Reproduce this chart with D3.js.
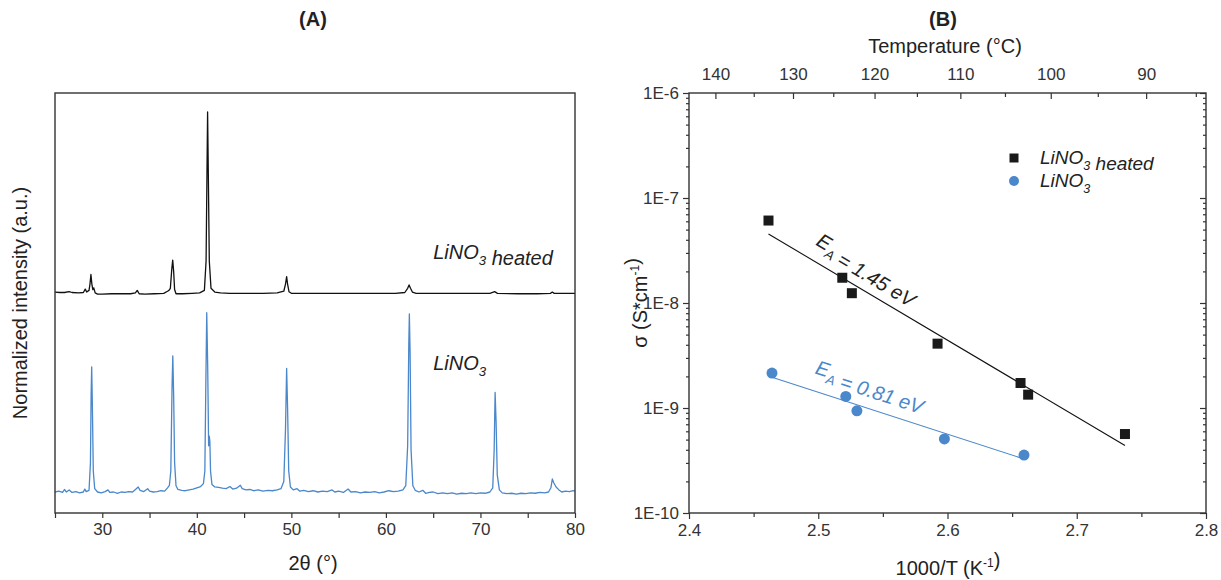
<!DOCTYPE html>
<html>
<head>
<meta charset="utf-8">
<script src="https://cdn.jsdelivr.net/npm/d3@7"></script>
<style>
  html, body { margin: 0; padding: 0; background: #fff; }
  svg { display: block; font-family: "Liberation Sans", Arial, sans-serif; }
  .axis path, .axis line { stroke: #333; stroke-width: 1.2; }
  .axis text { fill: #333; font-size: 17px; font-family: "Liberation Sans", Arial, sans-serif; }
</style>
</head>
<body>
<div id="chart"></div>
<script>
// ---- (A) XRD patterns : [2theta, normalized intensity]
const xrdHeated = [
  [25.0,0.526],[25.5,0.525],[26.0,0.525],[26.5,0.527],[26.8,0.525],[27.5,0.524],[28.0,0.525],
  [28.2,0.533],[28.35,0.526],[28.6,0.530],[28.7,0.545],[28.8,0.568],[28.9,0.545],[29.0,0.532],
  [29.1,0.536],[29.25,0.524],[29.5,0.521],[30.0,0.521],[31.0,0.522],[32.0,0.522],[33.0,0.522],
  [33.5,0.524],[33.7,0.530],[33.9,0.522],[34.5,0.521],[35.5,0.522],[36.5,0.523],[36.9,0.528],
  [37.05,0.530],[37.2,0.535],[37.35,0.580],[37.45,0.602],[37.55,0.575],[37.65,0.532],[37.8,0.522],
  [38.5,0.522],[39.5,0.523],[40.3,0.524],[40.8,0.530],[40.98,0.600],[41.07,0.800],[41.14,0.955],
  [41.22,0.800],[41.32,0.600],[41.5,0.535],[41.9,0.526],[42.5,0.524],[43.5,0.523],[45.0,0.523],
  [47.0,0.523],[48.5,0.524],[49.2,0.528],[49.38,0.545],[49.5,0.563],[49.6,0.545],[49.75,0.527],
  [50.0,0.523],[51.0,0.523],[53.0,0.523],[55.0,0.523],[57.0,0.523],[59.0,0.523],[61.0,0.523],
  [62.0,0.525],[62.3,0.535],[62.45,0.543],[62.6,0.535],[62.8,0.526],[63.2,0.523],[65.0,0.523],
  [67.0,0.523],[69.0,0.523],[71.0,0.523],[71.5,0.527],[71.8,0.523],[74.0,0.522],[76.0,0.522],
  [77.4,0.523],[77.6,0.526],[77.8,0.523],[80.0,0.523]
];

const xrdPristine = [
  [25.0,0.050],[25.4,0.052],[25.8,0.049],[26.0,0.056],[26.2,0.050],[26.5,0.055],[26.8,0.049],
  [27.2,0.051],[27.6,0.048],[28.0,0.050],[28.15,0.057],[28.3,0.051],[28.6,0.054],[28.75,0.120],
  [28.82,0.280],[28.88,0.348],[28.95,0.260],[29.05,0.100],[29.2,0.058],[29.5,0.050],[29.9,0.048],
  [30.3,0.051],[30.6,0.055],[30.8,0.049],[31.2,0.050],[31.6,0.047],[32.0,0.050],[32.4,0.049],
  [32.8,0.051],[33.2,0.050],[33.6,0.058],[33.8,0.062],[34.0,0.054],[34.4,0.051],[34.8,0.058],
  [35.0,0.052],[35.4,0.050],[35.8,0.051],[36.2,0.053],[36.6,0.052],[36.9,0.060],[37.1,0.066],
  [37.25,0.100],[37.38,0.300],[37.46,0.374],[37.55,0.280],[37.65,0.120],[37.8,0.065],[38.0,0.056],
  [38.4,0.054],[38.8,0.053],[39.2,0.055],[39.6,0.057],[40.0,0.060],[40.4,0.063],[40.7,0.070],
  [40.85,0.100],[40.95,0.300],[41.05,0.477],[41.15,0.350],[41.25,0.160],[41.32,0.183],[41.38,0.170],
  [41.45,0.100],[41.6,0.068],[41.9,0.062],[42.3,0.061],[42.7,0.059],[43.1,0.058],[43.5,0.063],
  [43.8,0.057],[44.2,0.059],[44.6,0.066],[44.8,0.058],[45.2,0.055],[45.6,0.056],[46.0,0.053],
  [46.5,0.055],[47.0,0.052],[47.5,0.054],[48.0,0.053],[48.5,0.055],[48.9,0.058],[49.2,0.075],
  [49.38,0.200],[49.5,0.344],[49.6,0.250],[49.72,0.100],[49.9,0.062],[50.2,0.055],[50.6,0.058],
  [50.9,0.052],[51.3,0.054],[51.8,0.051],[52.3,0.053],[52.8,0.050],[53.3,0.052],[53.8,0.051],
  [54.3,0.055],[54.6,0.050],[55.0,0.052],[55.5,0.049],[56.0,0.057],[56.3,0.050],[56.8,0.051],
  [57.3,0.048],[57.8,0.050],[58.3,0.049],[58.8,0.051],[59.3,0.048],[59.8,0.050],[60.3,0.053],
  [60.8,0.051],[61.3,0.052],[61.8,0.055],[62.1,0.065],[62.3,0.160],[62.42,0.400],[62.48,0.474],
  [62.56,0.380],[62.66,0.150],[62.85,0.065],[63.1,0.054],[63.5,0.050],[63.9,0.054],[64.2,0.047],
  [64.6,0.049],[65.0,0.050],[65.5,0.046],[66.0,0.048],[66.5,0.046],[67.0,0.048],[67.5,0.045],
  [68.0,0.047],[68.5,0.046],[69.0,0.048],[69.5,0.046],[70.0,0.048],[70.5,0.047],[71.0,0.050],
  [71.3,0.060],[71.45,0.150],[71.55,0.287],[71.65,0.220],[71.78,0.090],[72.0,0.055],[72.3,0.048],
  [72.8,0.046],[73.3,0.047],[73.8,0.045],[74.3,0.047],[74.8,0.046],[75.3,0.048],[75.8,0.047],
  [76.3,0.049],[76.8,0.048],[77.2,0.050],[77.45,0.060],[77.6,0.081],[77.75,0.072],[78.0,0.062],
  [78.3,0.055],[78.6,0.050],[79.0,0.052],[79.4,0.051],[79.8,0.053],[80.0,0.052]
];

const thetaTicks = [30, 40, 50, 60, 70, 80];
const thetaMinor = [25, 35, 45, 55, 65, 75];

// ---- (B) Arrhenius : 1000/T (K^-1) vs sigma (S/cm)
const heatedInvT  = [2.4615, 2.5186, 2.5260, 2.5923, 2.6565, 2.6624, 2.7373];
const heatedSigma = [6.1e-8, 1.74e-8, 1.24e-8, 4.1e-9, 1.73e-9, 1.34e-9, 5.65e-10];
const pristineInvT  = [2.4642, 2.5213, 2.5299, 2.5976, 2.6592];
const pristineSigma = [2.15e-9, 1.29e-9, 9.4e-10, 5.07e-10, 3.56e-10];
const heatedFit   = [[2.4615, 4.54e-8], [2.7373, 4.4e-10]];
const pristineFit = [[2.4642, 1.96e-9], [2.6592, 3.27e-10]];

const invTTicks = [2.4, 2.5, 2.6, 2.7, 2.8];
const invTMinor = [2.45, 2.55, 2.65, 2.75];
const sigmaTicks = [1e-10, 1e-9, 1e-8, 1e-7, 1e-6];
const tempTicks = [140, 130, 120, 110, 100, 90];
const tempMinor = [135, 125, 115, 105, 95, 85];

const blue = "#4a87cb";
const ink = "#222";

//---------------------------------------------------------------------------------------

const W = 1221, H = 580;
const svg = d3.select("#chart").append("svg")
  .attr("width", W).attr("height", H)
  .attr("viewBox", [0, 0, W, H]);

// helper : text with a lowered index (LiNO3, EA) or raised exponent
function subText(sel, parts) {
  parts.forEach(p => {
    if (p.sub) {
      sel.append("tspan").attr("dy", 6).attr("font-size", "0.66em").text(p.sub);
      sel.append("tspan").attr("dy", -6).text("");
    } else if (p.sup) {
      sel.append("tspan").attr("dy", -8).attr("font-size", "0.6em").text(p.sup);
      sel.append("tspan").attr("dy", 8).text("");
    } else {
      sel.append("tspan").text(p.t);
    }
  });
  return sel;
}

// tick labels : force the size over d3's default attribute
const tickText = g => g.selectAll(".tick text").style("font-size", "17px").attr("fill", "#333");

//---------------------------------------------------------------------------------------
// Panel A

const boxA = { left: 55, right: 575, top: 93, bottom: 513 };
const xA = d3.scaleLinear().domain([25, 80]).range([boxA.left, boxA.right]);
const yA = d3.scaleLinear().domain([0, 1]).range([boxA.bottom, boxA.top]);

const gA = svg.append("g");

gA.append("text")
  .attr("x", 313).attr("y", 26)
  .attr("text-anchor", "middle").attr("font-weight", "bold")
  .attr("font-size", 20).attr("fill", ink).text("(A)");

const lineA = d3.line().x(d => xA(d[0])).y(d => yA(d[1]));

gA.append("path").datum(xrdPristine)
  .attr("d", lineA).attr("fill", "none")
  .attr("stroke", blue).attr("stroke-width", 1.3).attr("stroke-linejoin", "round");

gA.append("path").datum(xrdHeated)
  .attr("d", lineA).attr("fill", "none")
  .attr("stroke", "#111").attr("stroke-width", 1.3).attr("stroke-linejoin", "round");

gA.append("rect")
  .attr("x", boxA.left).attr("y", boxA.top)
  .attr("width", boxA.right - boxA.left).attr("height", boxA.bottom - boxA.top)
  .attr("fill", "none").attr("stroke", "#333").attr("stroke-width", 1.4);

gA.append("g").attr("class", "axis")
  .attr("transform", `translate(0,${boxA.bottom})`)
  .call(d3.axisBottom(xA).tickValues(thetaTicks).tickSize(5).tickPadding(5).tickFormat(d3.format("d")))
  .call(g => g.select(".domain").remove())
  .call(tickText);

gA.append("g").attr("class", "axis")
  .attr("transform", `translate(0,${boxA.bottom})`)
  .call(d3.axisBottom(xA).tickValues(thetaMinor).tickSize(5).tickFormat(""))
  .call(g => g.select(".domain").remove());

gA.append("text")
  .attr("x", 313).attr("y", 570)
  .attr("text-anchor", "middle").attr("font-size", 20).attr("fill", ink)
  .text("2θ (°)");

gA.append("text")
  .attr("transform", `translate(27,${(boxA.top + boxA.bottom) / 2}) rotate(-90)`)
  .attr("text-anchor", "middle").attr("font-size", 20).attr("fill", ink)
  .text("Normalized intensity (a.u.)");

subText(gA.append("text")
  .attr("x", xA(65.0)).attr("y", 259)
  .attr("font-size", 20).attr("font-style", "italic").attr("fill", ink),
  [{ t: "LiNO" }, { sub: "3" }, { t: " heated" }]);

subText(gA.append("text")
  .attr("x", xA(65.0)).attr("y", 370)
  .attr("font-size", 20).attr("font-style", "italic").attr("fill", ink),
  [{ t: "LiNO" }, { sub: "3" }]);

//---------------------------------------------------------------------------------------
// Panel B

const boxB = { left: 689, right: 1206, top: 93, bottom: 513 };
const xB = d3.scaleLinear().domain([2.4, 2.8]).range([boxB.left, boxB.right]);
const yB = d3.scaleLog().domain([1e-10, 1e-6]).range([boxB.bottom, boxB.top]);

const sigmaMinor = [];
sigmaTicks.slice(0, -1).forEach(d => { for (let k = 2; k <= 9; k++) sigmaMinor.push(d * k); });

const gB = svg.append("g");

gB.append("text")
  .attr("x", 943).attr("y", 26)
  .attr("text-anchor", "middle").attr("font-weight", "bold")
  .attr("font-size", 20).attr("fill", ink).text("(B)");

gB.append("text")
  .attr("x", 945).attr("y", 53)
  .attr("text-anchor", "middle").attr("font-size", 20).attr("fill", ink)
  .text("Temperature (°C)");

// fits
const lineB = d3.line().x(d => xB(d[0])).y(d => yB(d[1]));
gB.append("path").datum(heatedFit).attr("d", lineB)
  .attr("stroke", "#111").attr("stroke-width", 1.1).attr("fill", "none");
gB.append("path").datum(pristineFit).attr("d", lineB)
  .attr("stroke", blue).attr("stroke-width", 1.1).attr("fill", "none");

// frame
gB.append("rect")
  .attr("x", boxB.left).attr("y", boxB.top)
  .attr("width", boxB.right - boxB.left).attr("height", boxB.bottom - boxB.top)
  .attr("fill", "none").attr("stroke", "#333").attr("stroke-width", 1.4);

const sigFmt = d => "1E" + Math.round(Math.log10(d));

// bottom
gB.append("g").attr("class", "axis")
  .attr("transform", `translate(0,${boxB.bottom})`)
  .call(d3.axisBottom(xB).tickValues(invTTicks).tickSize(6).tickPadding(5).tickFormat(d3.format(".1f")))
  .call(g => g.select(".domain").remove())
  .call(tickText);
gB.append("g").attr("class", "axis")
  .attr("transform", `translate(0,${boxB.bottom})`)
  .call(d3.axisBottom(xB).tickValues(invTMinor).tickSize(4).tickFormat(""))
  .call(g => g.select(".domain").remove());

// top : temperature, ticks inside
gB.append("g").attr("class", "axis")
  .attr("transform", `translate(0,${boxB.top})`)
  .call(d3.axisTop(xB).tickValues(tempTicks.map(t => 1000 / (t + 273.15)))
    .tickSizeInner(-6).tickSizeOuter(0).tickPadding(13)
    .tickFormat((d, i) => tempTicks[i]))
  .call(g => g.select(".domain").remove())
  .call(tickText);
gB.append("g").attr("class", "axis")
  .attr("transform", `translate(0,${boxB.top})`)
  .call(d3.axisTop(xB).tickValues(tempMinor.map(t => 1000 / (t + 273.15)))
    .tickSizeInner(-4).tickSizeOuter(0).tickFormat(""))
  .call(g => g.select(".domain").remove());

// left
gB.append("g").attr("class", "axis")
  .attr("transform", `translate(${boxB.left},0)`)
  .call(d3.axisLeft(yB).tickValues(sigmaTicks).tickSize(6).tickPadding(4).tickFormat(sigFmt))
  .call(g => g.select(".domain").remove())
  .call(tickText);
gB.append("g").attr("class", "axis")
  .attr("transform", `translate(${boxB.left},0)`)
  .call(d3.axisLeft(yB).tickValues(sigmaMinor).tickSize(3).tickFormat(""))
  .call(g => g.select(".domain").remove());

// right, ticks inside
gB.append("g").attr("class", "axis")
  .attr("transform", `translate(${boxB.right},0)`)
  .call(d3.axisRight(yB).tickValues(sigmaTicks).tickSize(-6).tickFormat(""))
  .call(g => g.select(".domain").remove());
gB.append("g").attr("class", "axis")
  .attr("transform", `translate(${boxB.right},0)`)
  .call(d3.axisRight(yB).tickValues(sigmaMinor).tickSize(-3).tickFormat(""))
  .call(g => g.select(".domain").remove());

// points
gB.append("g").selectAll("rect")
  .data(d3.zip(heatedInvT, heatedSigma))
  .join("rect")
  .attr("x", d => xB(d[0]) - 5).attr("y", d => yB(d[1]) - 5)
  .attr("width", 10).attr("height", 10).attr("fill", "#1a1a1a");

gB.append("g").selectAll("circle")
  .data(d3.zip(pristineInvT, pristineSigma))
  .join("circle")
  .attr("cx", d => xB(d[0])).attr("cy", d => yB(d[1]))
  .attr("r", 5.5).attr("fill", blue);

// activation energies along the fits
const angle = fit => {
  const [a, b] = fit;
  return Math.atan2(yB(b[1]) - yB(a[1]), xB(b[0]) - xB(a[0])) * 180 / Math.PI;
};

subText(gB.append("text")
  .attr("transform", `translate(${xB(2.537)},${yB(2.06e-8)}) rotate(${angle(heatedFit)})`)
  .attr("text-anchor", "middle").attr("dy", 4)
  .attr("font-size", 20).attr("font-style", "italic").attr("fill", ink),
  [{ t: "E" }, { sub: "A" }, { t: " = 1.45 eV" }]);

subText(gB.append("text")
  .attr("transform", `translate(${xB(2.540)},${yB(1.62e-9)}) rotate(${angle(pristineFit)})`)
  .attr("text-anchor", "middle").attr("dy", 5)
  .attr("font-size", 20).attr("font-style", "italic").attr("fill", blue),
  [{ t: "E" }, { sub: "A" }, { t: " = 0.81 eV" }]);

// legend
const leg = gB.append("g").attr("transform", "translate(1014,158)");
leg.append("rect").attr("x", -4.5).attr("y", -4.5).attr("width", 9).attr("height", 9).attr("fill", "#1a1a1a");
leg.append("circle").attr("cx", 0).attr("cy", 23).attr("r", 5).attr("fill", blue);
subText(leg.append("text").attr("x", 26).attr("y", 6)
  .attr("font-size", 19).attr("font-style", "italic").attr("fill", ink),
  [{ t: "LiNO" }, { sub: "3" }, { t: " heated" }]);
subText(leg.append("text").attr("x", 26).attr("y", 29)
  .attr("font-size", 19).attr("font-style", "italic").attr("fill", ink),
  [{ t: "LiNO" }, { sub: "3" }]);

// axis titles
subText(gB.append("text")
  .attr("x", 948).attr("y", 575)
  .attr("text-anchor", "middle").attr("font-size", 20).attr("fill", ink),
  [{ t: "1000/T (K" }, { sup: "-1" }, { t: ")" }]);

subText(gB.append("text")
  .attr("transform", `translate(647,${(boxB.top + boxB.bottom) / 2}) rotate(-90)`)
  .attr("text-anchor", "middle").attr("font-size", 20).attr("fill", ink),
  [{ t: "σ (S*cm" }, { sup: "-1" }, { t: ")" }]);
</script>
</body>
</html>
